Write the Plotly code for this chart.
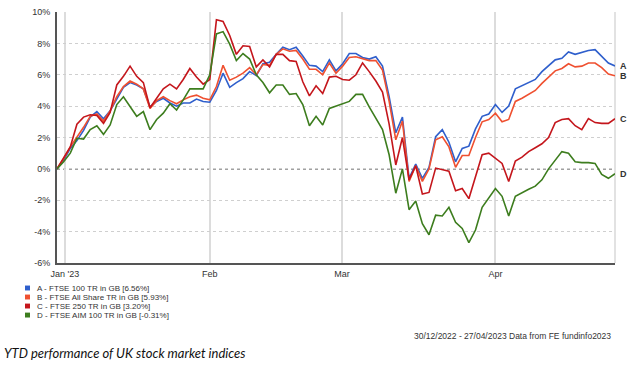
import plotly.graph_objects as go

# ---------------- data ----------------
letters = ["A", "B", "C", "D"]
names = ["FTSE 100 TR in GB", "FTSE All Share TR in GB", "FTSE 250 TR in GB", "FTSE AIM 100 TR in GB"]
colors = ["#2f5fcc", "#ef5030", "#c4161c", "#3d7d1e"]

ftse100 = [0, 0.55, 1.3, 1.8, 2.45, 3.3, 3.65, 3.2, 3.7, 4.5,
           5.2, 5.5, 5.35, 5.1, 3.95, 4.3, 4.5, 4.2, 4.0, 4.2,
           4.2, 4.45, 4.3, 4.25, 5.0, 6.1, 5.2, 5.5, 5.75, 6.2,
           5.95, 6.7, 6.8, 7.3, 7.75, 7.6, 7.75, 7.2, 6.6, 6.55,
           6.2, 6.95, 6.25, 6.7, 7.35, 7.35, 7.1, 7.0, 7.15, 6.55,
           4.6, 2.3, 3.3, -0.6, 0.3, -0.6, 0.1, 2.05, 2.5, 1.7,
           0.45, 1.3, 1.45, 2.55, 3.35, 3.5, 4.1, 3.6, 4.0, 5.1,
           5.3, 5.5, 5.7, 6.2, 6.6, 6.95, 7.05, 7.45, 7.3, 7.45,
           7.55, 7.6, 7.2, 6.75, 6.56]
ftse_all = [0, 0.65, 1.4, 2.0, 2.65, 3.35, 3.5, 3.05, 3.7, 4.6,
            5.25, 5.6, 5.4, 5.1, 3.85, 4.35, 4.6, 4.35, 4.15, 4.4,
            4.6, 4.7, 4.5, 4.4, 5.25, 6.6, 5.65, 5.85, 6.1, 6.45,
            6.0, 6.65, 6.6, 7.3, 7.65, 7.5, 7.55, 7.0, 6.35, 6.35,
            6.0, 6.75, 6.1, 6.55, 7.1, 7.15, 7.0, 6.9, 6.9, 6.3,
            4.3, 1.85, 3.05, -0.8, 0.2, -0.8, 0.0, 1.85, 2.05, 1.4,
            0.1, 0.85, 0.85, 2.0, 3.0, 3.15, 3.55, 3.0, 3.15, 4.3,
            4.5, 4.75, 5.0, 5.45, 5.85, 6.25, 6.4, 6.7, 6.5, 6.55,
            6.75, 6.75, 6.45, 6.05, 5.93]
ftse250 = [0, 0.67, 1.4, 2.85, 3.3, 3.45, 3.4, 2.9, 3.6, 5.35,
           5.9, 6.55, 5.9, 5.5, 3.9, 4.5, 5.1, 5.4, 5.1, 5.7,
           6.4, 5.85, 5.4, 5.7, 9.5, 9.4, 8.5, 7.3, 7.85, 7.8,
           6.5, 6.95, 6.5, 7.3, 7.3, 6.9, 6.85, 5.55, 4.65, 5.3,
           4.8, 5.85, 5.9, 5.7, 5.65, 6.0, 6.75, 6.2, 5.6, 4.9,
           2.85, 0.25, 2.0, -0.7, 0.2, -1.6, -1.5, 0.05, -0.05, -0.15,
           -1.4, -1.25, -1.9, -0.5, 0.9, 1.0, 0.65, 0.35, -0.8, 0.5,
           0.75, 1.1, 1.35, 1.6, 2.0, 2.95, 3.15, 3.2, 2.75, 2.5,
           3.2, 2.95, 2.9, 2.9, 3.2]
ftse_aim = [0, 0.45, 1.0, 1.95, 1.9, 2.5, 2.75, 2.2, 2.8, 4.1,
            4.6, 4.0, 3.35, 3.65, 2.5, 3.15, 3.55, 4.15, 3.75, 4.4,
            5.1, 5.1, 5.1, 6.0, 8.6, 8.75, 7.95, 6.9, 7.35, 7.0,
            6.0, 5.5, 4.85, 5.35, 5.35, 4.75, 4.8, 4.1, 2.75, 3.35,
            2.8, 3.85, 4.0, 4.2, 4.3, 4.75, 4.75, 3.95, 3.2, 2.5,
            0.9, -1.55, 0.0, -2.6, -2.05, -3.5, -4.2, -2.95, -3.0, -2.45,
            -3.4, -3.8, -4.7, -3.9, -2.45, -1.85, -1.25, -1.75, -3.0, -1.75,
            -1.5, -1.3, -1.1, -0.7, 0.0, 0.55, 1.1, 1.0, 0.45, 0.4,
            0.4, 0.35, -0.35, -0.6, -0.31]
series = [ftse100, ftse_all, ftse250, ftse_aim]

# trading-day index of month ticks
month_tick_index = [1.2, 23, 42.9, 66]
month_tick_text = ["Jan '23", "Feb", "Mar", "Apr"]
y_ticks = [-6, -4, -2, 0, 2, 4, 6, 8, 10]
y_tick_text = ["-6%", "-4%", "-2%", "0%", "2%", "4%", "6%", "8%", "10%"]

date_note = "30/12/2022 - 27/04/2023 Data from FE fundinfo2023"
caption = "YTD performance of UK stock market indices"

# ---------------- figure ----------------
FONT = "Liberation Sans"
fig = go.Figure()
for vals, col, let in zip(series, colors, letters):
    fig.add_trace(go.Scatter(
        x=list(range(len(vals))), y=vals, mode="lines",
        line=dict(color=col, width=1.6), name=let, showlegend=False,
        hoverinfo="skip"))
    fig.add_annotation(x=len(vals) - 1, y=vals[-1], xref="x", yref="y",
                       text="<b>%s</b>" % let, showarrow=False,
                       xanchor="left", xshift=3, yanchor="middle",
                       font=dict(family=FONT, size=9, color="#333"))

n = len(ftse100)
fig.update_xaxes(range=[0, n - 1], tickvals=month_tick_index, ticktext=month_tick_text,
                 showgrid=True, gridcolor="#dcdcdc", gridwidth=1.5,
                 showline=True, linecolor="#555", linewidth=2,
                 zeroline=False, ticks="", ticklabelstandoff=1,
                 tickfont=dict(family=FONT, size=9, color="#333"))
fig.update_yaxes(range=[-6, 10], tickvals=y_ticks, ticktext=y_tick_text,
                 showgrid=True, gridcolor="#cfcfcf", gridwidth=1, griddash="dot",
                 showline=True, linecolor="#555", linewidth=2,
                 zeroline=False, ticks="", ticklabelstandoff=3,
                 tickfont=dict(family=FONT, size=9, color="#333"))

# zero line and right frame
fig.add_hline(y=0, line=dict(color="#444", width=1.2, dash="dot"), layer="below")
fig.add_shape(type="line", xref="paper", yref="paper", x0=1, x1=1, y0=0, y1=1,
              line=dict(color="#d8d8d8", width=1.5), layer="below")

# legend (manual, as in reference)
W, H = 558.0, 256.0
for k, (let, nm, col, vals) in enumerate(zip(letters, names, colors, series)):
    ypx = 288.5 + 9.2 * k
    yp = (263 - ypx) / H
    fig.add_shape(type="rect", xref="paper", yref="paper",
                  x0=(25 - 57) / W, x1=(30 - 57) / W,
                  y0=yp - 2.5 / H, y1=yp + 2.5 / H,
                  fillcolor=col, line=dict(width=0))
    fig.add_annotation(xref="paper", yref="paper", x=(35 - 57) / W, y=yp,
                       text="%s - %s [%.2f%%]" % (let, nm, vals[-1]),
                       showarrow=False, xanchor="left", yanchor="middle",
                       font=dict(family=FONT, size=8, color="#333"))

fig.add_annotation(xref="paper", yref="paper", x=(613 - 57) / W, y=(263 - 337) / H,
                   text=date_note, showarrow=False, xanchor="right", yanchor="middle",
                   font=dict(family=FONT, size=8.5, color="#333"))
fig.add_annotation(xref="paper", yref="paper", x=(2 - 57) / W, y=(263 - 355) / H,
                   text="<i>%s</i>" % caption, showarrow=False, xanchor="left",
                   yanchor="middle", font=dict(family="Lato", size=13, color="#111"))

fig.update_layout(width=630, height=365, margin=dict(l=57, r=15, t=7, b=102),
                  paper_bgcolor="white", plot_bgcolor="white")

fig.write_html("out.html")
